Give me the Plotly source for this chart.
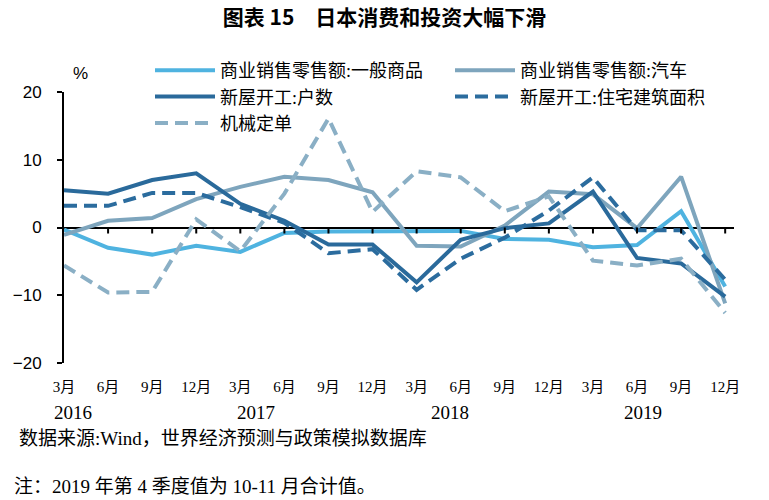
import plotly.graph_objects as go

# ---- data ----
quarters = ["3月", "6月", "9月", "12月", "3月", "6月", "9月", "12月",
            "3月", "6月", "9月", "12月", "3月", "6月", "9月", "12月"]
years = ["2016", "2017", "2018", "2019"]
general_goods = [-0.3, -3.0, -4.0, -2.7, -3.6, -0.8, -0.6, -0.6,
                 -0.5, -0.5, -1.7, -1.8, -2.9, -2.6, 2.4, -8.7]
autos = [-1.1, 1.0, 1.4, 4.2, 6.0, 7.5, 7.0, 5.2,
         -2.7, -2.8, 0.3, 5.3, 4.9, -0.1, 7.5, -11.2]
housing_units = [5.5, 5.0, 7.0, 8.0, 3.5, 1.0, -2.5, -2.5,
                 -8.1, -1.8, -0.1, 0.6, 5.3, -4.5, -5.3, -10.2]
housing_area = [3.2, 3.2, 5.1, 5.1, 3.0, 0.7, -3.8, -3.2,
                -9.2, -4.6, -1.5, 2.5, 7.4, -0.4, -0.4, -7.7]
machinery_orders = [-5.6, -9.6, -9.5, 1.2, -3.5, 5.0, 16.1, 2.3,
                    8.3, 7.4, 2.4, 4.6, -4.9, -5.6, -4.6, -12.6]

names = ["商业销售零售额:一般商品", "商业销售零售额:汽车", "新屋开工:户数",
         "新屋开工:住宅建筑面积", "机械定单"]
series = [general_goods, autos, housing_units, housing_area, machinery_orders]
colors = ["#4fb3e0", "#7ea5bd", "#2a6a9b", "#2b6c9e", "#8aafc5"]
dashes = ["solid", "solid", "solid", "13px,7px", "13px,7px"]
legend_cols = ["legend", "legend2", "legend", "legend2", "legend"]

x = list(range(len(quarters)))

CJK_SERIF = "Liberation Serif, Noto Sans CJK SC"

fig = go.Figure()
for n, s, c, d, lg in zip(names, series, colors, dashes, legend_cols):
    fig.add_trace(go.Scatter(x=x, y=s, mode="lines", name=n, legend=lg,
                             line=dict(color=c, width=4, dash=d)))

# tick marks on the zero line
shapes = []
for i in x[1:]:
    shapes.append(dict(type="line", xref="x", yref="y", x0=i, x1=i,
                       ysizemode="pixel", yanchor=0, y0=0, y1=-6,
                       line=dict(color="black", width=2)))

annotations = [
    dict(text="%", xref="paper", yref="paper", x=(80 - 64) / 670, y=1 + (92 - 73) / 271,
         xanchor="center", yanchor="middle",
         showarrow=False, font=dict(family="Liberation Sans", size=17, color="black"))
]
year_px = [73, 256, 450, 643]
for yr, px in zip(years, year_px):
    annotations.append(dict(text=yr, xref="paper", yref="paper",
                            x=(px - 64) / 670, y=-(412 - 363) / 271,
                            xanchor="center", yanchor="middle", showarrow=False,
                            font=dict(family="Liberation Serif", size=19, color="black")))
annotations.append(dict(text="数据来源:Wind，世界经济预测与政策模拟数据库",
                        xref="paper", yref="paper", x=(17 - 64) / 670,
                        y=-(438 - 363) / 271, xanchor="left", yanchor="middle",
                        showarrow=False, font=dict(family=CJK_SERIF, size=19, color="black")))
annotations.append(dict(text="注：2019 年第 4 季度值为 10-11 月合计值。",
                        xref="paper", yref="paper", x=(12 - 64) / 670,
                        y=-(486 - 363) / 271, xanchor="left", yanchor="middle",
                        showarrow=False, font=dict(family=CJK_SERIF, size=19, color="black")))

legend_common = dict(orientation="v", xanchor="left", yanchor="top",
                     y=1 + (92 - 52) / 271, itemwidth=60, tracegroupgap=0,
                     traceorder="normal",
                     font=dict(family=CJK_SERIF, size=18, color="black"),
                     bgcolor="rgba(0,0,0,0)")

fig.update_layout(
    width=769, height=500,
    margin=dict(l=64, r=35, t=92, b=137, autoexpand=False),
    paper_bgcolor="white", plot_bgcolor="white",
    title=dict(text="<b>图表 15　日本消费和投资大幅下滑</b>", x=0.5, xanchor="center",
               y=1 - 18 / 500, yanchor="middle", yref="container",
               font=dict(family="Noto Sans CJK SC", size=21, color="black")),
    showlegend=True,
    legend=dict(x=(150 - 64) / 670, **legend_common),
    legend2=dict(x=(450 - 64) / 670, **legend_common),
    xaxis=dict(range=[0, 15.2], tickmode="array", tickvals=x, ticktext=quarters,
               showline=False, showgrid=False, zeroline=False, ticks="",
               ticklabelstandoff=13,
               tickfont=dict(family=CJK_SERIF, size=15, color="black")),
    yaxis=dict(range=[-20, 20], tickvals=[-20, -10, 0, 10, 20], showgrid=False,
               showline=True, linecolor="black", linewidth=2,
               zeroline=True, zerolinecolor="black", zerolinewidth=2,
               ticks="outside", ticklen=5, tickwidth=2, tickcolor="black",
               ticklabelstandoff=12,
               tickfont=dict(family="Liberation Sans", size=17, color="black")),
    shapes=shapes,
    annotations=annotations,
)

fig.write_html("out.html", config={"displayModeBar": False},
               post_script="document.body.style.margin='0px';")
